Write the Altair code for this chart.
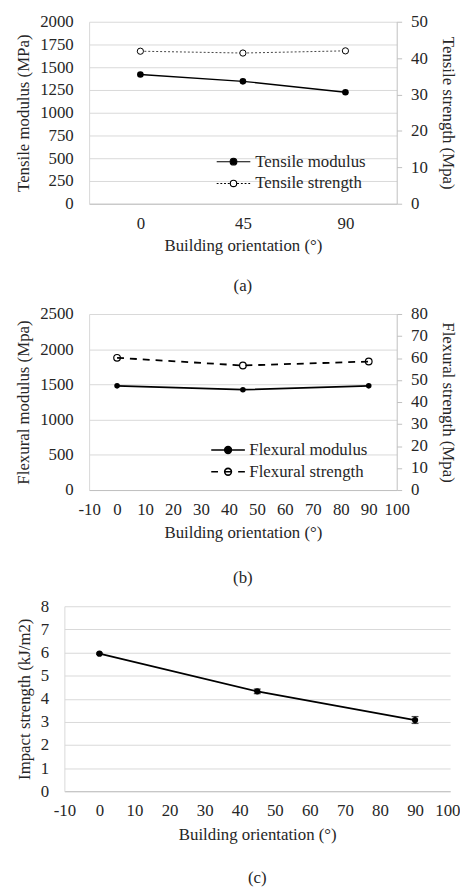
import altair as alt
import pandas as pd

# ---------------- data ----------------
orientation = [0, 45, 90]
tensile_modulus = [1420, 1345, 1225]
tensile_strength = [41.9, 41.4, 42.0]
flexural_modulus = [1480, 1425, 1480]
flexural_strength = [60.1, 56.6, 58.4]
impact_strength = [5.95, 4.32, 3.08]
impact_error = [0.03, 0.10, 0.15]

legend_a = ["Tensile modulus", "Tensile strength"]
legend_b = ["Flexural modulus", "Flexural strength"]

mod_ticks_a = [0, 250, 500, 750, 1000, 1250, 1500, 1750, 2000]
str_ticks_a = [0, 10, 20, 30, 40, 50]
mod_ticks_b = [0, 500, 1000, 1500, 2000, 2500]
str_ticks_b = [0, 10, 20, 30, 40, 50, 60, 70, 80]
x_ticks = [-10, 0, 10, 20, 30, 40, 50, 60, 70, 80, 90, 100]
impact_ticks = [0, 1, 2, 3, 4, 5, 6, 7, 8]

# ---------------- style ----------------
FONT = "Liberation Serif"
TXT = "#262626"
FS = 17
GRID = "#d9d9d9"
AXL = "#bfbfbf"


def seg_line(a, b, seg, gap):
    parts = []
    x = a
    while x < b - 1e-9:
        e = min(x + seg, b)
        parts.append(f"M{x:.3f},0H{e:.3f}")
        x = e + gap
    return "".join(parts)


def circle(r):
    return f"M{r},0A{r},{r},0,1,1,{-r},0A{r},{r},0,1,1,{r},0Z"


PATH_SOLID = "M-1,0H1" + circle(0.2)
PATH_DOT = seg_line(-1, -0.2, 0.11, 0.11) + seg_line(0.22, 1, 0.11, 0.11) + circle(0.19)
PATH_DASH = "M-1,0H-0.6M0.6,0H1M-0.2,0H0.2" + circle(0.2)


def legend_layer(names, paths, fills, lx, ly, label_offset, sw):
    ldf = pd.DataFrame({"series": names})
    leg = alt.Legend(
        title=None, orient="none", legendX=lx, legendY=ly, padding=0,
        labelFont=FONT, labelFontSize=FS, labelColor=TXT, labelOffset=label_offset,
        symbolSize=1156, symbolStrokeWidth=sw, clipHeight=17, rowPadding=4,
    )
    return alt.Chart(ldf).transform_filter("false").mark_point(size=1156, opacity=1).encode(
        shape=alt.Shape("series:N", scale=alt.Scale(domain=names, range=paths), legend=leg),
        fill=alt.Fill("series:N", scale=alt.Scale(domain=names, range=fills), legend=leg),
        stroke=alt.Stroke("series:N", scale=alt.Scale(domain=names, range=["black", "black"]), legend=leg),
    )


def caption(text, offset):
    return alt.TitleParams(text, orient="bottom", offset=offset, font=FONT, fontSize=FS,
                           fontWeight="normal", color=TXT)


def spacer():
    return alt.Chart(pd.DataFrame({"s": [0]})).mark_point(opacity=0, size=0).properties(width=1, height=1)


def row(ch):
    return alt.hconcat(spacer(), ch, spacing=0).resolve_scale(
        shape="independent", fill="independent", stroke="independent"
    ).resolve_legend(shape="independent", fill="independent", stroke="independent")


# ---------------- panel (a) ----------------
df_a = pd.DataFrame({"orientation": orientation, "modulus": tensile_modulus,
                     "strength": tensile_strength})
x_a = alt.X("orientation:O", scale=alt.Scale(type="point", padding=0.5),
            axis=alt.Axis(title="Building orientation (°)", labelAngle=0, ticks=False,
                          labelPadding=12, titlePadding=6, domainColor=AXL, grid=False))
y_mod_a = alt.Y("modulus:Q", scale=alt.Scale(domain=[0, 2000], nice=False),
                axis=alt.Axis(title="Tensile modulus (MPa)", values=mod_ticks_a, grid=True,
                              format="d", labelOverlap=False,
                              ticks=False, labelPadding=16, titlePadding=7, domainColor=GRID))
y_str_a = alt.Y("strength:Q", scale=alt.Scale(domain=[0, 50], nice=False),
                axis=alt.Axis(title="Tensile strength (Mpa)", orient="right", values=str_ticks_a,
                              format="d", labelOverlap=False,
                              grid=False, ticks=True, tickSize=5, tickColor=AXL, labelPadding=9,
                              titlePadding=11, domainColor=AXL))
base_a = alt.Chart(df_a)
left_a = alt.layer(
    base_a.mark_line(color="black", strokeWidth=1.3).encode(x=x_a, y=y_mod_a),
    base_a.mark_point(filled=True, color="black", size=45, opacity=1).encode(x=x_a, y=y_mod_a),
)
right_a = alt.layer(
    base_a.mark_line(color="#444444", strokeWidth=1, strokeDash=[2, 2]).encode(x=x_a, y=y_str_a),
    base_a.mark_point(shape="circle", filled=True, fill="white", stroke="black", strokeWidth=1,
                      size=40, opacity=1).encode(x=x_a, y=y_str_a),
)
chart_a = alt.layer(
    left_a, right_a,
    legend_layer(legend_a, [PATH_SOLID, PATH_DOT], ["black", "white"], 128, 133, 4, 1.1),
).resolve_scale(y="independent").properties(width=311, height=184, title=caption("(a)", 25))

# ---------------- panel (b) ----------------
df_b = pd.DataFrame({"orientation": orientation, "modulus": flexural_modulus,
                     "strength": flexural_strength})
x_b = alt.X("orientation:Q", scale=alt.Scale(domain=[-10, 100], nice=False),
            axis=alt.Axis(title="Building orientation (°)", values=x_ticks, ticks=False,
                          labelExpr="'' + datum.value", labelPadding=12, titlePadding=7,
                          labelFlush=False, labelOverlap=False,
                          domainColor=AXL, grid=False))
y_mod_b = alt.Y("modulus:Q", scale=alt.Scale(domain=[0, 2500], nice=False),
                axis=alt.Axis(title="Flexural modulus (Mpa)", values=mod_ticks_b, grid=True,
                              format="d", labelOverlap=False,
                              ticks=False, labelPadding=16, titlePadding=7, domainColor=GRID))
y_str_b = alt.Y("strength:Q", scale=alt.Scale(domain=[0, 80], nice=False),
                axis=alt.Axis(title="Flexural strength (Mpa)", orient="right", values=str_ticks_b,
                              format="d", labelOverlap=False,
                              grid=False, ticks=True, tickSize=5, tickColor=AXL, labelPadding=9,
                              titlePadding=11, domainColor=AXL))
base_b = alt.Chart(df_b)
left_b = alt.layer(
    base_b.mark_line(color="black", strokeWidth=1.8).encode(x=x_b, y=y_mod_b),
    base_b.mark_point(filled=True, color="black", size=32, opacity=1).encode(x=x_b, y=y_mod_b),
)
right_b = alt.layer(
    base_b.mark_line(color="black", strokeWidth=1.8, strokeDash=[7, 6]).encode(x=x_b, y=y_str_b),
    base_b.mark_point(shape="circle", filled=False, color="black", strokeWidth=1.2,
                      size=45, opacity=1).encode(x=x_b, y=y_str_b),
)
chart_b = alt.layer(
    left_b, right_b,
    legend_layer(legend_b, [PATH_SOLID, PATH_DASH], ["black", "white"], 122.5, 129, 3.5, 1.6),
).resolve_scale(y="independent").properties(width=311, height=178, title=caption("(b)", 29.5))

# ---------------- panel (c) ----------------
df_c = pd.DataFrame({"orientation": orientation, "impact": impact_strength, "err": impact_error})
x_c = alt.X("orientation:Q", scale=alt.Scale(domain=[-10, 100], nice=False),
            axis=alt.Axis(title="Building orientation (°)", values=x_ticks, ticks=False,
                          labelExpr="'' + datum.value", labelPadding=12, titlePadding=8,
                          labelFlush=False, labelOverlap=False,
                          labelAlign={"condition": {"test": "datum.value === 100", "value": "right"},
                                      "value": "center"},
                          labelOffset={"condition": {"test": "datum.value === 100", "value": 10},
                                       "value": 0},
                          domainColor=AXL, grid=False))
y_axis_c = alt.Axis(title="Impact strength (kJ/m2)", values=impact_ticks, grid=True,
                    format="d", labelOverlap=False,
                    ticks=False, labelPadding=16, titlePadding=7, domainColor=GRID)
y_scale_c = alt.Scale(domain=[0, 8], nice=False)
y_c = alt.Y("impact:Q", scale=y_scale_c, axis=y_axis_c)
y_lo = alt.Y("lo:Q", scale=y_scale_c, axis=y_axis_c)
y_hi = alt.Y("hi:Q", scale=y_scale_c, axis=y_axis_c)
base_c = alt.Chart(df_c).transform_calculate(lo="datum.impact - datum.err",
                                             hi="datum.impact + datum.err")
chart_c = alt.layer(
    base_c.mark_line(color="black", strokeWidth=1.8).encode(x=x_c, y=y_c),
    base_c.mark_rule(color="black", strokeWidth=1.2).encode(x=x_c, y=y_lo, y2="hi:Q"),
    base_c.mark_tick(color="black", orient="horizontal", size=7, thickness=1.2).encode(x=x_c, y=y_lo),
    base_c.mark_tick(color="black", orient="horizontal", size=7, thickness=1.2).encode(x=x_c, y=y_hi),
    base_c.mark_point(filled=True, color="black", size=40, opacity=1).encode(x=x_c, y=y_c),
).properties(width=390, height=187, title=caption("(c)", 27.5))

# ---------------- assemble ----------------
chart = alt.vconcat(row(chart_a), row(chart_b), row(chart_c), spacing=11.5).resolve_scale(
    shape="independent", fill="independent", stroke="independent"
).resolve_legend(
    shape="independent", fill="independent", stroke="independent"
).configure(
    font=FONT, padding={"left": 6, "top": 0, "right": 0, "bottom": 0}
).configure_view(stroke=None).configure_axis(
    labelFont=FONT, titleFont=FONT, labelFontSize=FS, titleFontSize=FS,
    titleFontWeight="normal", labelColor=TXT, titleColor=TXT, gridColor=GRID, gridWidth=1,
)

chart.save("out.html", embed_options={"renderer": "svg", "actions": False})
